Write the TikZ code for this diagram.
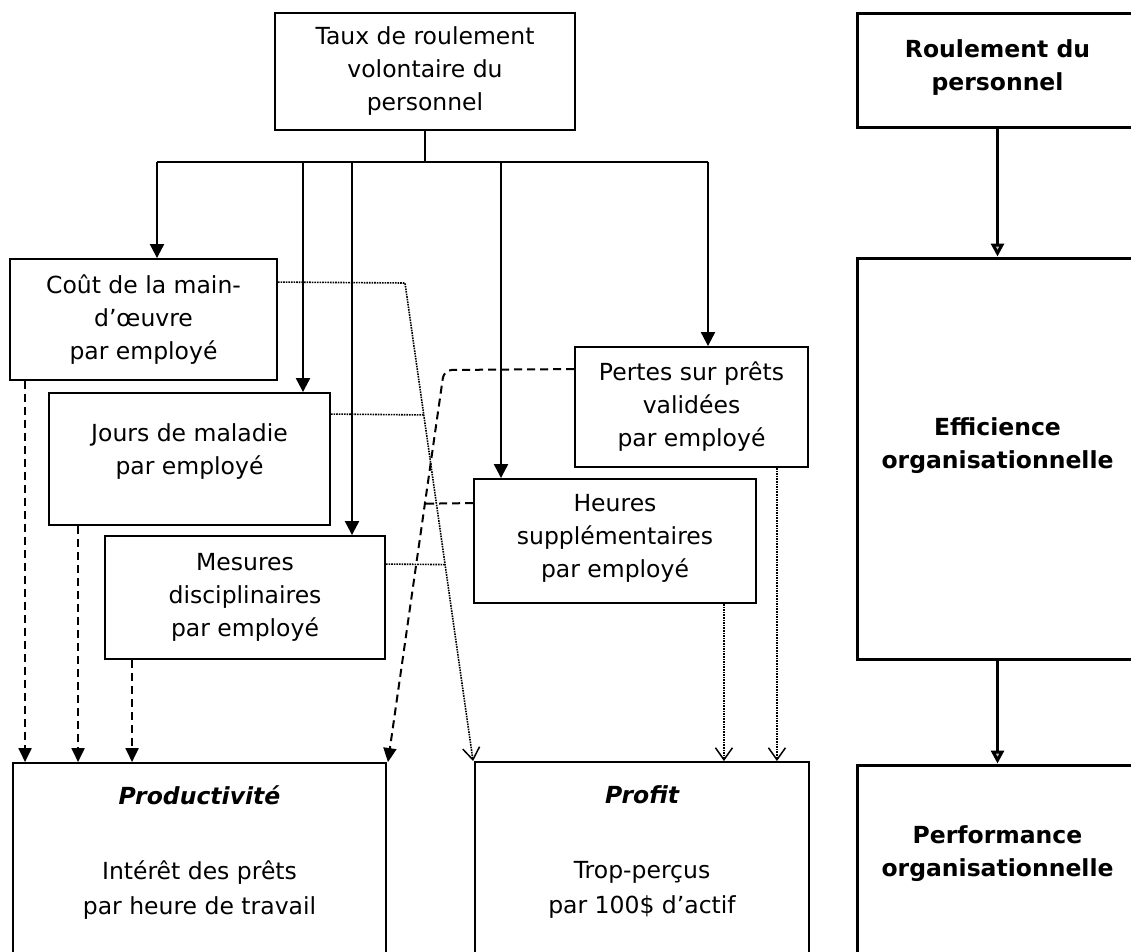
\documentclass[tikz,border=0pt]{standalone}
\usepackage{fontspec}
\setmainfont{DejaVu Sans}
\usetikzlibrary{arrows.meta,calc}
\begin{document}
\begin{tikzpicture}[x=1pt,y=-1pt,
  box/.style={draw, line width=1.9pt, inner sep=0pt, align=center, font=\fontsize{23.5}{33}\selectfont},
  bigbox/.style={draw, line width=3pt, inner sep=0pt},
  txt/.style={inner sep=0pt, align=center, font=\fontsize{23.5}{33}\selectfont},
  btxt/.style={inner sep=0pt, align=center, font=\fontsize{23.5}{33}\selectfont\bfseries},
  bitxt/.style={inner sep=0pt, align=center, font=\fontsize{23.5}{33}\selectfont\bfseries\itshape},
  bus/.style={line width=1.3pt},
  solidarr/.style={line width=2.2pt, -{Triangle[width=14pt,length=14pt]}},
  bigarr/.style={line width=3pt, -{Triangle[width=13pt,length=13pt,fill=gray!50]}},
  dasharr/.style={line width=2pt, dash pattern=on 8pt off 5pt, -{Triangle[width=13pt,length=14pt]}},
  dashline/.style={line width=2pt, dash pattern=on 8pt off 5pt},
  dotline/.style={line width=1.6pt, densely dotted},
  dotarr/.style={line width=1.6pt, densely dotted, -{Straight Barb[width=17pt,length=12pt,line width=1.5pt]}},
]
\useasboundingbox (0,0) rectangle (1131,951);
\clip (0,0) rectangle (1131,951);

% boxes
\node[box, minimum width=300pt, minimum height=117pt] (taux) at (425,71.5)
  {Taux de roulement\\volontaire du\\personnel};
\node[box, minimum width=267pt, minimum height=121pt] (cout) at (143.5,319.5)
  {Coût de la main-\\d’œuvre\\par employé};
\node[box, minimum width=281pt, minimum height=132pt] (jours) at (189.5,459) {};
\node[txt] (joursT) at (189.5,452) {Jours de maladie\\par employé};
\node[box, minimum width=280pt, minimum height=123pt] (mesures) at (245,597.5)
  {Mesures\\disciplinaires\\par employé};
\node[box, minimum width=233pt, minimum height=120pt] (pertes) at (691.5,407)
  {Pertes sur prêts\\validées\\par employé};
\node[box, minimum width=282pt, minimum height=124pt] (heures) at (615,541) {};
\node[txt] (heuresT) at (615,538) {Heures\\supplémentaires\\par employé};

\node[box, minimum width=373pt, minimum height=237pt] (prod) at (199.5,881.5) {};
\node[bitxt] (prodT) at (199.5,795) {Productivité};
\node[txt, font=\fontsize{23.5}{35}\selectfont] (prodB) at (199.5,890) {Intérêt des prêts\\par heure de travail};

\node[box, minimum width=334pt, minimum height=238pt] (profit) at (642,881) {};
\node[bitxt] (profitT) at (642,795) {Profit};
\node[txt, font=\fontsize{23.5}{35}\selectfont] (profitB) at (642,890) {Trop-perçus\\par 100\$ d’actif};

\node[bigbox, minimum width=281pt, minimum height=114pt] (roul) at (997.5,70) {};
\node[btxt] (roulT) at (997.5,68) {Roulement du\\personnel};
\node[bigbox, minimum width=281pt, minimum height=401pt] (eff) at (997.5,458.5) {};
\node[btxt] (effT) at (997.5,446) {Efficience\\organisationnelle};
\node[bigbox, minimum width=281pt, minimum height=235pt] (perf) at (997.5,882.5) {};
\node[btxt] (perfT) at (997.5,854) {Performance\\organisationnelle};

% bus from top box
\coordinate (b1) at (157,162);
\coordinate (b2) at (303,162);
\coordinate (b3) at (352,162);
\coordinate (b4) at (501,162);
\coordinate (b5) at (708,162);
\draw[bus] (taux.south) -- (taux.south |- b1);
\draw[bus] (b1) -- (b5);
\draw[solidarr] (b1) -- (b1 |- cout.north);
\draw[solidarr] (b2) -- (b2 |- jours.north);
\draw[solidarr] (b3) -- (b3 |- mesures.north);
\draw[solidarr] (b4) -- (b4 |- heures.north);
\draw[solidarr] (b5) -- (b5 |- pertes.north);

% right column
\draw[bigarr] (roul.south) -- (eff.north);
\draw[bigarr] (eff.south) -- (perf.north);

% dashed to productivity
\draw[dasharr] ([xshift=16pt]cout.south west) -- ([xshift=16pt]cout.south west |- prod.north);
\draw[dasharr] ([xshift=30pt]jours.south west) -- ([xshift=30pt]jours.south west |- prod.north);
\draw[dasharr] ([xshift=28pt]mesures.south west) -- ([xshift=28pt]mesures.south west |- prod.north);
\coordinate (pk) at (444,370);
\draw[dasharr, rounded corners=8pt] ([yshift=-23pt]pertes.north west) -- (pk) -- ([xshift=1pt]prod.north east);
\draw[dashline] ([yshift=-25pt]heures.north west) -- ($(pk)!0.341!([xshift=1pt]prod.north east)$);

% dotted to profit
\coordinate (dk) at (405,283);
\draw[dotarr] ([yshift=-24pt]cout.north east) -- (dk) -- ([xshift=-1pt]profit.north west);
\draw[dotline] ([yshift=-22pt]jours.north east) -- ($(dk)!0.276!([xshift=-1pt]profit.north west)$);
\draw[dotline] ([yshift=-29pt]mesures.north east) -- ($(dk)!0.589!([xshift=-1pt]profit.north west)$);
\draw[dotarr] ([xshift=-33pt]heures.south east) -- ([xshift=-33pt]heures.south east |- profit.north);
\draw[dotarr] ([xshift=-32pt]pertes.south east) -- ([xshift=-32pt]pertes.south east |- profit.north);
\end{tikzpicture}
\end{document}
